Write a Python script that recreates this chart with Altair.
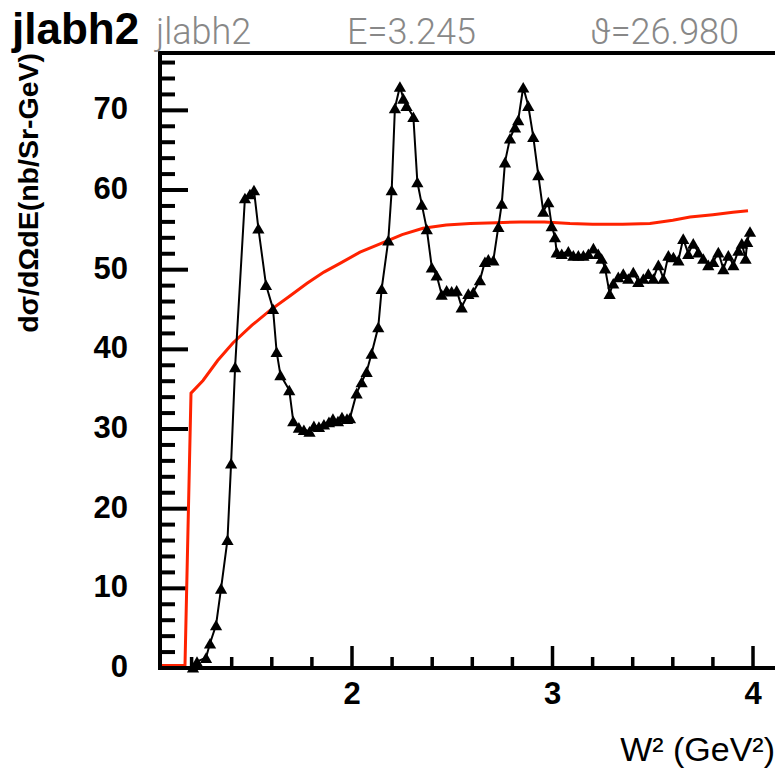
import altair as alt
import pandas as pd

# ---- data ----
data_w2 = [1.207, 1.227, 1.272, 1.292, 1.322, 1.347, 1.379, 1.397, 1.417, 1.466,
           1.491, 1.511, 1.533, 1.571, 1.606, 1.624, 1.643, 1.687, 1.707, 1.735,
           1.760, 1.788, 1.810, 1.835, 1.860, 1.885, 1.905, 1.930, 1.950, 1.975,
           1.990, 2.023, 2.048, 2.073, 2.098, 2.131, 2.148, 2.181, 2.198, 2.214,
           2.239, 2.256, 2.272, 2.306, 2.326, 2.348, 2.373, 2.398, 2.422, 2.447,
           2.472, 2.497, 2.522, 2.547, 2.580, 2.605, 2.638, 2.663, 2.680, 2.705,
           2.730, 2.747, 2.763, 2.788, 2.813, 2.829, 2.854, 2.879, 2.904, 2.929,
           2.954, 2.979, 2.996, 3.012, 3.021, 3.046, 3.079, 3.104, 3.129, 3.154,
           3.179, 3.204, 3.228, 3.245, 3.262, 3.285, 3.303, 3.328, 3.353, 3.378,
           3.403, 3.428, 3.453, 3.478, 3.503, 3.528, 3.553, 3.578, 3.603, 3.628,
           3.652, 3.677, 3.702, 3.727, 3.752, 3.777, 3.802, 3.827, 3.852, 3.877,
           3.902, 3.927, 3.944, 3.963, 3.971, 3.985]
data_xs = [0.1, 0.8, 1.3, 3.1, 5.4, 10.0, 16.1, 25.7, 37.8, 59.0,
           59.5, 60.0, 55.2, 48.1, 45.1, 39.7, 36.8, 34.9, 31.0, 30.2,
           29.9, 29.7, 30.4, 30.3, 30.6, 30.9, 31.3, 31.0, 31.5, 31.3,
           31.4, 34.5, 35.9, 37.2, 39.5, 42.8, 47.6, 53.7, 60.0, 70.3,
           73.0, 71.5, 70.6, 69.2, 61.0, 58.2, 55.1, 50.3, 49.3, 46.9,
           47.4, 47.3, 47.4, 45.3, 47.0, 47.2, 48.7, 51.0, 51.3, 51.2,
           55.4, 58.3, 63.5, 66.5, 67.9, 68.8, 72.9, 70.6, 66.7, 61.9,
           57.3, 58.5, 55.5, 54.1, 52.2, 52.0, 52.3, 51.8, 51.8, 51.8,
           52.0, 52.7, 52.0, 51.4, 50.2, 47.0, 48.3, 49.1, 49.5, 48.9,
           49.7, 48.5, 48.9, 49.5, 48.9, 50.6, 48.9, 51.8, 51.6, 51.2,
           53.9, 52.0, 53.3, 52.2, 51.4, 50.6, 51.0, 52.2, 50.1, 51.8,
           50.6, 52.4, 53.3, 51.4, 53.5, 54.8]

model_w2 = [1.045, 1.167, 1.197, 1.257, 1.330, 1.406, 1.500, 1.591, 1.690, 1.776,
            1.860, 1.940, 2.040, 2.155, 2.250, 2.354, 2.470, 2.590, 2.720, 2.840,
            2.960, 3.087, 3.200, 3.350, 3.486, 3.600, 3.686, 3.800, 3.900, 3.975]
model_xs = [0.3, 0.3, 34.5, 36.1, 38.6, 40.8, 43.0, 44.9, 46.7, 48.3,
            49.7, 50.8, 52.2, 53.4, 54.4, 55.2, 55.6, 55.8, 55.9, 56.0,
            56.0, 55.8, 55.7, 55.7, 55.8, 56.2, 56.6, 56.9, 57.2, 57.4]

y_major = [0, 10, 20, 30, 40, 50, 60, 70]
y_minor = [2, 4, 6, 8, 12, 14, 16, 18, 22, 24, 26, 28, 32, 34, 36, 38,
           42, 44, 46, 48, 52, 54, 56, 58, 62, 64, 66, 68, 72, 74, 76]
x_major = [2, 3, 4]
x_minor = [1.2, 1.4, 1.6, 1.8, 2.2, 2.4, 2.6, 2.8, 3.2, 3.4, 3.6, 3.8]

header_texts = ["jlabh2", "E=3.245", "\u03d1=26.980"]
x_title = "W\u00b2 (GeV\u00b2)"
y_title = "d\u03c3/d\u03a9dE(nb/Sr-GeV)"

# ---- chart ----
W, H = 615, 615
X0, X1 = 1.0424, 4.1097
Y0, Y1 = 0.0, 77.2
xscale = alt.Scale(domain=[X0, X1], nice=False, zero=False)
yscale = alt.Scale(domain=[Y0, Y1], nice=False, zero=False)
PX_X = W / (X1 - X0)   # pixels per x unit
PX_Y = H / (Y1 - Y0)   # pixels per y unit
LABEL_FONT = "Liberation Sans"

df_data = pd.DataFrame({"w2": data_w2, "xs": data_xs})
df_model = pd.DataFrame({"w2": model_w2, "xs": model_xs})

# inward tick segments (ROOT style), built from the tick value lists
ytick_rows = []
for v in y_major:
    ytick_rows += [{"id": f"M{v}", "a": X0, "b": v}, {"id": f"M{v}", "a": X0 + 28 / PX_X, "b": v}]
for v in y_minor:
    ytick_rows += [{"id": f"m{v}", "a": X0, "b": v}, {"id": f"m{v}", "a": X0 + 15 / PX_X, "b": v}]
xtick_rows = []
for v in x_major:
    xtick_rows += [{"id": f"M{v}", "a": v, "b": Y0}, {"id": f"M{v}", "a": v, "b": Y0 + 22 / PX_Y}]
for v in x_minor:
    xtick_rows += [{"id": f"m{v}", "a": v, "b": Y0}, {"id": f"m{v}", "a": v, "b": Y0 + 11 / PX_Y}]


def X(f):
    return alt.X(f, scale=xscale, axis=None)


def Y(f):
    return alt.Y(f, scale=yscale, axis=None)


model = alt.Chart(df_model).mark_line(color="#ff2200", strokeWidth=3).encode(
    x=X("w2:Q"), y=Y("xs:Q"))
line = alt.Chart(df_data).mark_line(color="black", strokeWidth=2).encode(
    x=X("w2:Q"), y=Y("xs:Q"))
pts = alt.Chart(df_data).mark_point(shape="triangle-up", filled=True, color="black",
                                    size=150, opacity=1).encode(
    x=X("w2:Q"), y=Y("xs:Q"))

yticks = alt.Chart(pd.DataFrame(ytick_rows)).mark_line(
    color="black", strokeWidth=4, strokeCap="butt").encode(
    x=X("a:Q"), y=Y("b:Q"), detail="id:N")
xticks = alt.Chart(pd.DataFrame(xtick_rows)).mark_line(
    color="black", strokeWidth=3.5, strokeCap="butt").encode(
    x=X("a:Q"), y=Y("b:Q"), detail="id:N", order="b:Q")

# frame lines
one = pd.DataFrame({"v": [0]})
left_line = alt.Chart(one).mark_rule(color="black", strokeWidth=4).encode(
    x=alt.value(0), y=alt.value(-2), y2=alt.value(H + 2))
bottom_line = alt.Chart(one).mark_rule(color="black", strokeWidth=4).encode(
    x=alt.value(-2), x2=alt.value(W + 5), y=alt.value(H))
top_line = alt.Chart(one).mark_rule(color="black", strokeWidth=4).encode(
    x=alt.value(-2), x2=alt.value(W + 5), y=alt.value(0))

# tick labels
ylab = alt.Chart(pd.DataFrame({"lv": y_major})).mark_text(
    font=LABEL_FONT, fontWeight="bold", fontSize=31, color="black",
    align="right", baseline="middle").encode(
    y=Y("lv:Q"), x=alt.value(-32), text=alt.Text("lv:Q", format="d"))
xlab = alt.Chart(pd.DataFrame({"lv": x_major})).mark_text(
    font=LABEL_FONT, fontWeight="bold", fontSize=31, color="black",
    align="center", baseline="top").encode(
    x=X("lv:Q"), y=alt.value(H + 12), text=alt.Text("lv:Q", format="d"))

# axis titles
xtit = alt.Chart(pd.DataFrame({"t": [x_title]})).mark_text(
    font=LABEL_FONT, fontSize=34, color="black", align="right",
    baseline="alphabetic").encode(text="t:N", x=alt.value(W), y=alt.value(H + 93))
ytit = alt.Chart(pd.DataFrame({"t": [y_title]})).mark_text(
    font=LABEL_FONT, fontWeight="bold", fontSize=28.5, color="black",
    align="right", baseline="middle", angle=270).encode(
    text="t:N", x=alt.value(-131), y=alt.value(0))

title_bold = alt.Chart(pd.DataFrame({"t": ["jlabh2"]})).mark_text(
    font=LABEL_FONT, fontWeight="bold", fontSize=44, color="black",
    align="left", baseline="alphabetic").encode(
    text="t:N", x=alt.value(-148), y=alt.value(-9))

hdr = []
for txt, px in zip(header_texts, [-4, 187, 430]):
    hdr.append(alt.Chart(pd.DataFrame({"t": [txt]})).mark_text(
        font="Roboto", fontWeight=300, fontSize=36, color="#888888",
        align="left", baseline="alphabetic").encode(
        text="t:N", x=alt.value(px), y=alt.value(-9)))

chart = alt.layer(yticks, xticks, model, line, pts,
                  left_line, bottom_line, top_line, ylab, xlab, xtit, ytit,
                  title_bold, *hdr).properties(
    width=W, height=H,
    autosize=alt.AutoSizeParams(type="none"),
    padding={"left": 160, "top": 53, "right": 0, "bottom": 102},
).configure_view(stroke=None).configure(background="white")

chart.save("out.html", embed_options={"renderer": "svg", "actions": False})
